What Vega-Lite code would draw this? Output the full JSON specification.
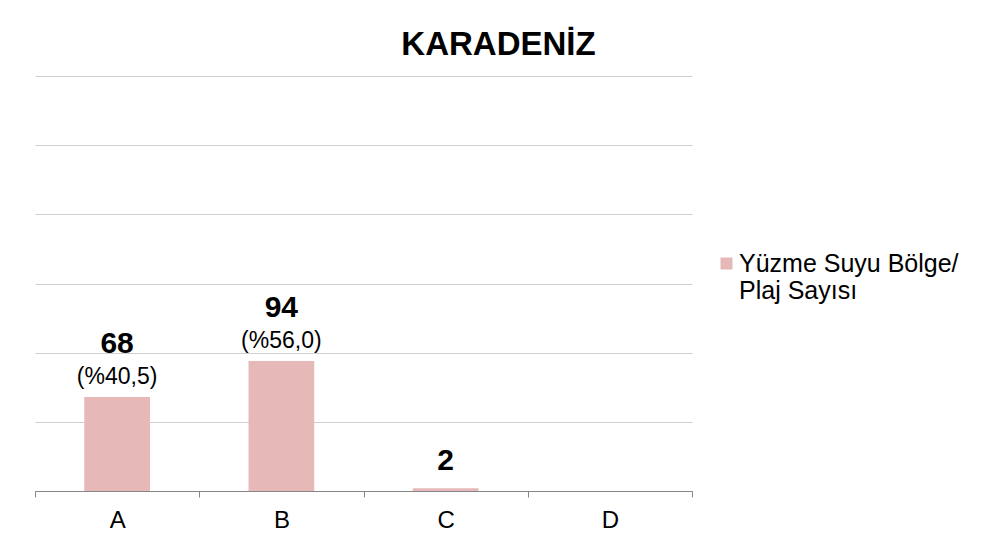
{
  "$schema": "https://vega.github.io/schema/vega-lite/v6.json",
  "autosize": "none",
  "width": 657,
  "height": 415,
  "padding": {"left": 35, "top": 76, "right": 289, "bottom": 60},
  "background": "white",
  "title": {
    "text": "KARADENİZ",
    "fontSize": 33,
    "fontWeight": "bold",
    "font": "Liberation Sans",
    "color": "#000000",
    "anchor": "middle",
    "dx": 135,
    "baseline": "alphabetic",
    "offset": -12
  },
  "data": {
    "values": [
      {"cat": "A", "value": 68, "pct": "(%40,5)", "series": "Yüzme Suyu Bölge/ Plaj Sayısı"},
      {"cat": "B", "value": 94, "pct": "(%56,0)", "series": "Yüzme Suyu Bölge/ Plaj Sayısı"},
      {"cat": "C", "value": 2, "pct": "", "series": "Yüzme Suyu Bölge/ Plaj Sayısı"},
      {"cat": "D", "value": 0, "pct": "", "series": "Yüzme Suyu Bölge/ Plaj Sayısı"}
    ]
  },
  "encoding": {
    "x": {
      "field": "cat",
      "type": "nominal",
      "scale": {"paddingInner": 0, "paddingOuter": 0},
      "axis": {
        "title": null,
        "labelAngle": 0,
        "tickBand": "extent",
        "domainColor": "#868686",
        "tickColor": "#868686",
        "tickSize": 6,
        "labelFontSize": 24,
        "labelFont": "Liberation Sans",
        "labelColor": "#000000",
        "labelPadding": 11,
        "grid": false
      }
    },
    "y": {
      "field": "value",
      "type": "quantitative",
      "scale": {"domain": [0, 300], "nice": false},
      "axis": {
        "title": null,
        "values": [0, 50, 100, 150, 200, 250, 300],
        "labels": false,
        "ticks": false,
        "domain": false,
        "grid": true,
        "gridColor": "#D0D0D0",
        "gridWidth": 1
      }
    }
  },
  "layer": [
    {
      "mark": {"type": "bar", "width": {"band": 0.4}},
      "encoding": {
        "color": {
          "field": "series",
          "type": "nominal",
          "scale": {"range": ["#E6B9B8"]},
          "legend": {
            "title": null,
            "orient": "none",
            "legendX": 679,
            "legendY": 175,
            "symbolType": "square",
            "symbolSize": 144,
            "symbolStrokeWidth": 0,
            "labelFontSize": 25,
            "labelFont": "Liberation Sans",
            "labelColor": "#000000",
            "labelLimit": 400,
            "labelOffset": 0,
            "labelExpr": "['Yüzme Suyu Bölge/', 'Plaj Sayısı']"
          }
        }
      }
    },
    {
      "transform": [{"filter": "datum.pct != ''"}],
      "mark": {"type": "text", "baseline": "alphabetic", "dy": -13, "fontSize": 23, "font": "Liberation Sans", "color": "#000000"},
      "encoding": {"text": {"field": "pct"}}
    },
    {
      "transform": [{"filter": "datum.pct != '' && datum.value > 0"}],
      "mark": {"type": "text", "baseline": "alphabetic", "dy": -44, "fontSize": 30, "fontWeight": "bold", "font": "Liberation Sans", "color": "#000000"},
      "encoding": {"text": {"field": "value"}}
    },
    {
      "transform": [{"filter": "datum.pct == '' && datum.value > 0"}],
      "mark": {"type": "text", "baseline": "alphabetic", "dy": -18, "fontSize": 30, "fontWeight": "bold", "font": "Liberation Sans", "color": "#000000"},
      "encoding": {"text": {"field": "value"}}
    }
  ],
  "config": {"view": {"stroke": null}}
}
